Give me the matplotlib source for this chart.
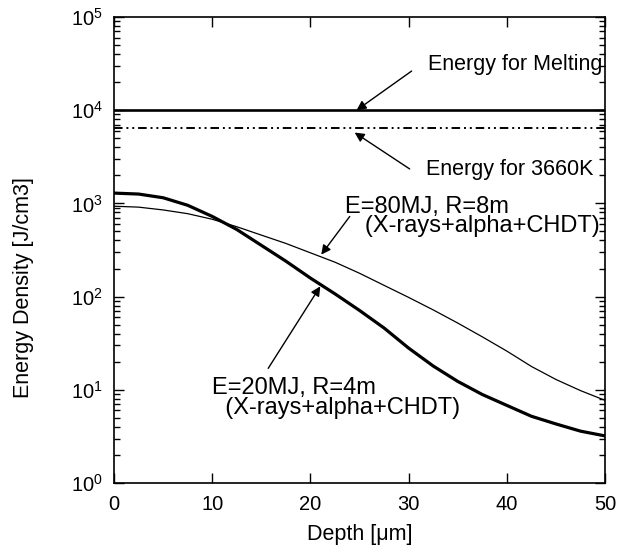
import matplotlib
matplotlib.use('Agg')
import matplotlib.pyplot as plt
import numpy as np

plt.rcParams['font.family'] = ['Liberation Sans', 'DejaVu Sans']

# depth [um] and energy density [J/cm3]
depth = [0, 2.5, 5, 7.5, 10, 12.5, 15, 17.5, 20, 22.5, 25,
         27.5, 30, 32.5, 35, 37.5, 40, 42.5, 45, 47.5, 50]
e20_r4 = [1290, 1260, 1150, 955, 725, 525, 355, 240, 158, 107, 71,
          46, 28, 18, 12.3, 8.9, 6.8, 5.2, 4.3, 3.6, 3.2]
e80_r8 = [933, 912, 851, 776, 676, 562, 457, 372, 295, 234, 178,
          132, 98, 72, 52, 37, 26, 17.8, 12.9, 9.8, 7.7]
melting = 1.0e4
heat_3660k = 6.4e3

xticks = [0, 10, 20, 30, 40, 50]

fig = plt.figure(figsize=(6.24, 5.56), dpi=100)
ax = fig.add_axes([0.1827, 0.1313, 0.787, 0.8381])

ax.axhline(melting, color='black', lw=1.9)
ax.axhline(heat_3660k, color='black', lw=1.4, dashes=(4.4, 2.0, 1.0, 2.0, 1.0, 2.0))
ax.plot(depth, e80_r8, color='black', lw=0.9)
ax.plot(depth, e20_r4, color='black', lw=2.3)

ax.set_yscale('log')
ax.set_xlim(0, 50)
ax.set_ylim(1, 1e5)
ax.set_xticks(xticks)
ax.set_xticklabels([str(t) for t in xticks])
ax.set_yticks([1, 10, 100, 1e3, 1e4, 1e5])
ax.set_yticklabels([r'$\mathregular{10^{%d}}$' % i for i in range(6)])
ax.tick_params(which='both', direction='in', top=True, right=True)
ax.tick_params(axis='x', labelsize=14.5, pad=9)
ax.tick_params(axis='y', labelsize=14.5, pad=8)
ax.tick_params(which='major', length=7.5, width=1)
ax.tick_params(which='minor', length=4, width=1)
ax.tick_params(axis='x', which='minor', bottom=False, top=False)
for s in ax.spines.values():
    s.set_linewidth(1.2)

ax.set_xlabel('Depth [\u03bcm]', fontsize=15.5)
ax.set_ylabel('Energy Density [J/cm3]', fontsize=15.5)
ax.xaxis.set_label_coords(0.5, -0.088)
ax.yaxis.set_label_coords(-0.163, 0.42)

arr = dict(arrowstyle='-|>', color='black', lw=1.0, mutation_scale=14, shrinkA=0, shrinkB=0)
fs1 = 15.5
fs2 = 17
ax.annotate('', xy=(24.7, 1.0e4), xytext=(30.3, 10**4.42), arrowprops=arr)
ax.text(32.0, 10**4.436, 'Energy for Melting', fontsize=fs1, ha='left', va='baseline')
ax.annotate('', xy=(24.5, 10**3.76), xytext=(30.1, 10**3.37), arrowprops=arr)
ax.text(31.8, 10**3.30, 'Energy for 3660K', fontsize=fs1, ha='left', va='baseline')

# two-line labels: baseline given is that of the second line
ax.annotate('', xy=(21.1, 10**2.45), xytext=(24.0, 10**2.86), arrowprops=arr)
ax.text(23.5, 10**2.69, 'E=80MJ, R=8m\n   (X-rays+alpha+CHDT)', fontsize=fs2,
        ha='left', va='baseline', linespacing=0.85)

ax.annotate('', xy=(21.0, 10**2.11), xytext=(15.7, 10**1.23), arrowprops=arr)
ax.text(10.0, 10**0.745, 'E=20MJ, R=4m\n  (X-rays+alpha+CHDT)', fontsize=fs2,
        ha='left', va='baseline', linespacing=0.85)

fig.savefig('out.png', dpi=100)
